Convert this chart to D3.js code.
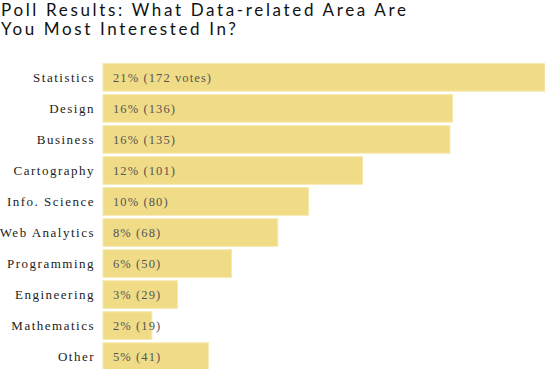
<!DOCTYPE html>
<html><head><meta charset="utf-8">
<script src="https://cdn.jsdelivr.net/npm/d3@7"></script>
<style>
html,body{margin:0;padding:0;background:#fff;}
svg{display:block;}
</style></head>
<body>
<svg id="chart" width="545" height="369"></svg>
<script>
const titleLines = ["Poll Results: What Data-related Area Are", "You Most Interested In?"];
const categories = ["Statistics","Design","Business","Cartography","Info. Science","Web Analytics","Programming","Engineering","Mathematics","Other"];
const votes = [172,136,135,101,80,68,50,29,19,41];
const percents = [21,16,16,12,10,8,6,3,2,5];

const svg = d3.select("#chart");
const W = 545, H = 369;
const marginLeft = 103, marginTop = 62;
const x = d3.scaleLinear().domain([0, 172]).range([0, W - marginLeft]);
const y = d3.scaleBand().domain(categories).range([marginTop, marginTop + 31*10]).paddingInner(0.11).paddingOuter(0.05);

svg.append("g").selectAll("text").data(titleLines).join("text")
  .attr("x", 1).attr("y", (d,i) => 16 + i*19)
  .attr("font-family", "Lato, 'Open Sans', sans-serif")
  .attr("font-size", 17).attr("letter-spacing", 2.65)
  .attr("fill", "#111").text(d => d);

const rows = svg.append("g").selectAll("g").data(categories).join("g");
rows.append("rect")
  .attr("x", marginLeft).attr("y", d => y(d))
  .attr("width", (d,i) => x(votes[i])).attr("height", y.bandwidth())
  .attr("fill", "#f0dc87").attr("stroke", "#f6e8ae").attr("stroke-width", 1);
rows.append("text")
  .attr("x", 95).attr("y", d => y(d) + y.bandwidth()/2 + 4.5)
  .attr("text-anchor", "end")
  .attr("font-family", "'Liberation Serif', 'DejaVu Serif', serif")
  .attr("font-size", 13).attr("letter-spacing", 1.5)
  .attr("fill", "#222").text(d => d);
rows.append("text")
  .attr("x", 113).attr("y", d => y(d) + y.bandwidth()/2 + 4.5)
  .attr("font-family", "'Liberation Serif', 'DejaVu Serif', serif")
  .attr("font-size", 12.5).attr("letter-spacing", 1.1)
  .attr("fill", "#555")
  .text((d,i) => percents[i] + "% (" + votes[i] + (i === 0 ? " votes" : "") + ")");
</script>
</body></html>
